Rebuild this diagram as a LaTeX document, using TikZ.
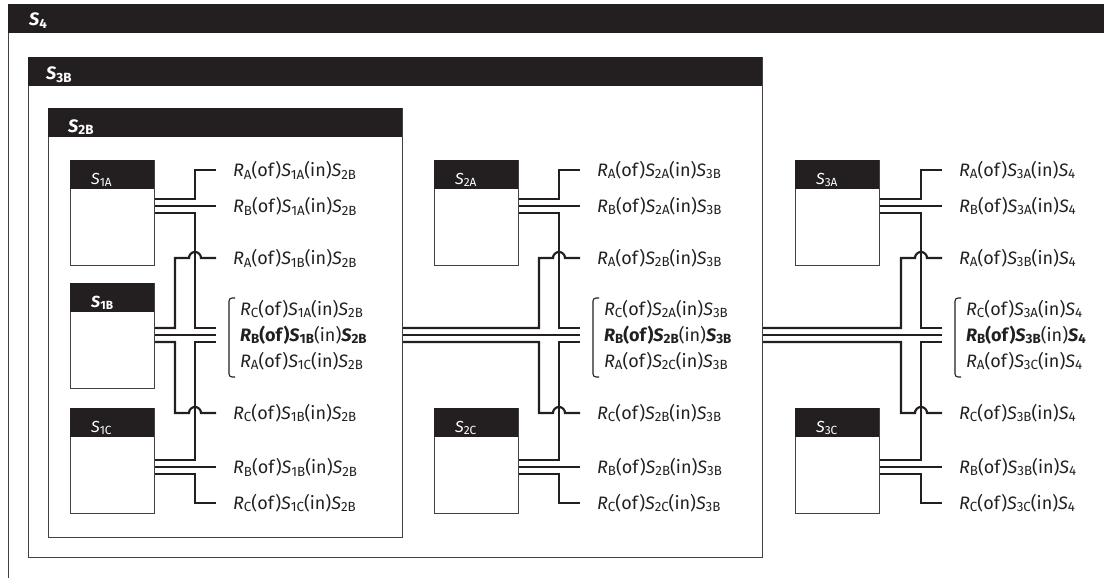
\documentclass[tikz,border=0pt]{standalone}
\usepackage{fontspec}
\usepackage{graphicx}
\setmainfont{Fira Sans}
\usetikzlibrary{calc}
\definecolor{ink}{HTML}{231F20}
\newcommand{\Rs}[1]{\textit{R}\raisebox{-0.3ex}{\scalebox{0.74}{#1}}}
\newcommand{\Ss}[1]{\textit{S}\raisebox{-0.3ex}{\scalebox{0.74}{#1}}}

\begin{document}
\begin{tikzpicture}[x=1pt, y=-1pt,
  every node/.style={font=\fontsize{18}{26}\selectfont, text=ink},
  frame/.style={draw=ink!85, line width=1.2pt, anchor=north west, inner sep=0pt},
  bar/.style={fill=ink, anchor=north west, inner sep=0pt, minimum height=29pt},
  ttl/.style={text=white, anchor=base west, inner sep=0pt},
  lbl/.style={anchor=west, inner xsep=17pt, inner ysep=0pt},
  grp/.style={anchor=west, inner xsep=24pt, inner ysep=0pt, align=left},
  wire/.style={draw=ink, line width=2.2pt},
  brk/.style={draw=ink, line width=1.1pt, rounded corners=3pt}]
  \useasboundingbox (0,0) rectangle (1104,578);
  \clip (0,0) rectangle (1104,578);

  % nested systems
  \node[frame, minimum width=1130pt, minimum height=620pt] (s4) at (8,4) {};
  \node[bar, minimum width=1130pt] (s4bar) at (s4.north west) {};
  \node[ttl, font=\fontsize{18}{20}\selectfont\bfseries] (s4t) at ($(s4.north west)+(21,22)$) {\Ss{4}};
  \node[frame, minimum width=734pt, minimum height=500pt] (s3b) at (28,57) {};
  \node[bar, minimum width=734pt] (s3bbar) at (s3b.north west) {};
  \node[ttl, font=\fontsize{18}{20}\selectfont\bfseries] (s3bt) at ($(s3b.north west)+(18,23)$) {\Ss{3B}};
  \node[frame, minimum width=354pt, minimum height=429pt] (s2b) at (48,108) {};
  \node[bar, minimum width=354pt] (s2bbar) at (s2b.north west) {};
  \node[ttl, font=\fontsize{18}{20}\selectfont\bfseries] (s2bt) at ($(s2b.north west)+(20,24)$) {\Ss{2B}};

  % elementary boxes
  \node[frame, minimum width=84pt, minimum height=105pt] (s1a) at (70,160) {};
  \node[frame, minimum width=84pt, minimum height=105pt] (s1b) at (70,283) {};
  \node[frame, minimum width=84pt, minimum height=105pt] (s1c) at (70,408) {};
  \node[frame, minimum width=84pt, minimum height=105pt] (s2a) at (434,160) {};
  \node[frame, minimum width=84pt, minimum height=105pt] (s2c) at (434,408) {};
  \node[frame, minimum width=84pt, minimum height=105pt] (s3a) at (795,160) {};
  \node[frame, minimum width=84pt, minimum height=105pt] (s3c) at (795,408) {};
  \node[bar, minimum width=84pt] (s1abar) at (s1a.north west) {};
  \node[bar, minimum width=84pt] (s1bbar) at (s1b.north west) {};
  \node[bar, minimum width=84pt] (s1cbar) at (s1c.north west) {};
  \node[bar, minimum width=84pt] (s2abar) at (s2a.north west) {};
  \node[bar, minimum width=84pt] (s2cbar) at (s2c.north west) {};
  \node[bar, minimum width=84pt] (s3abar) at (s3a.north west) {};
  \node[bar, minimum width=84pt] (s3cbar) at (s3c.north west) {};
  \node[ttl, font=\fontsize{16}{18}\selectfont] (s1at) at ($(s1a.north west)+(21,24)$) {\Ss{1A}};
  \node[ttl, font=\fontsize{16}{18}\selectfont\bfseries] (s1bt) at ($(s1b.north west)+(21,24)$) {\Ss{1B}};
  \node[ttl, font=\fontsize{16}{18}\selectfont] (s1ct) at ($(s1c.north west)+(21,24)$) {\Ss{1C}};
  \node[ttl, font=\fontsize{16}{18}\selectfont] (s2at) at ($(s2a.north west)+(21,24)$) {\Ss{2A}};
  \node[ttl, font=\fontsize{16}{18}\selectfont] (s2ct) at ($(s2c.north west)+(21,24)$) {\Ss{2C}};
  \node[ttl, font=\fontsize{16}{18}\selectfont] (s3at) at ($(s3a.north west)+(21,24)$) {\Ss{3A}};
  \node[ttl, font=\fontsize{16}{18}\selectfont] (s3ct) at ($(s3c.north west)+(21,24)$) {\Ss{3C}};

  % relation labels, level 1
  \node[lbl] (a1) at (216,170) {\Rs{A}(of)\Ss{1A}(in)\Ss{2B}};
  \node[lbl] (b1) at (216,206) {\Rs{B}(of)\Ss{1A}(in)\Ss{2B}};
  \node[lbl] (c1) at (216,258) {\Rs{A}(of)\Ss{1B}(in)\Ss{2B}};
  \node[grp] (g1) at (216,335) {\Rs{C}(of)\Ss{1A}(in)\Ss{2B}\\ \textbf{\Rs{B}(of)\Ss{1B}}(in)\textbf{\Ss{2B}}\\ \Rs{A}(of)\Ss{1C}(in)\Ss{2B}};
  \node[lbl] (d1) at (216,413) {\Rs{C}(of)\Ss{1B}(in)\Ss{2B}};
  \node[lbl] (e1) at (216,467) {\Rs{B}(of)\Ss{1B}(in)\Ss{2B}};
  \node[lbl] (f1) at (216,503) {\Rs{C}(of)\Ss{1C}(in)\Ss{2B}};

  % relation labels, level 2
  \node[lbl] (a2) at (580,170) {\Rs{A}(of)\Ss{2A}(in)\Ss{3B}};
  \node[lbl] (b2) at (580,206) {\Rs{B}(of)\Ss{2A}(in)\Ss{3B}};
  \node[lbl] (c2) at (580,258) {\Rs{A}(of)\Ss{2B}(in)\Ss{3B}};
  \node[grp] (g2) at (580,335) {\Rs{C}(of)\Ss{2A}(in)\Ss{3B}\\ \textbf{\Rs{B}(of)\Ss{2B}}(in)\textbf{\Ss{3B}}\\ \Rs{A}(of)\Ss{2C}(in)\Ss{3B}};
  \node[lbl] (d2) at (580,413) {\Rs{C}(of)\Ss{2B}(in)\Ss{3B}};
  \node[lbl] (e2) at (580,467) {\Rs{B}(of)\Ss{2B}(in)\Ss{3B}};
  \node[lbl] (f2) at (580,503) {\Rs{C}(of)\Ss{2C}(in)\Ss{3B}};

  % relation labels, level 3
  \node[lbl] (a3) at (942,170) {\Rs{A}(of)\Ss{3A}(in)\Ss{4}};
  \node[lbl] (b3) at (942,206) {\Rs{B}(of)\Ss{3A}(in)\Ss{4}};
  \node[lbl] (c3) at (942,258) {\Rs{A}(of)\Ss{3B}(in)\Ss{4}};
  \node[grp] (g3) at (942,335) {\Rs{C}(of)\Ss{3A}(in)\Ss{4}\\ \textbf{\Rs{B}(of)\Ss{3B}}(in)\textbf{\Ss{4}}\\ \Rs{A}(of)\Ss{3C}(in)\Ss{4}};
  \node[lbl] (d3) at (942,413) {\Rs{C}(of)\Ss{3B}(in)\Ss{4}};
  \node[lbl] (e3) at (942,467) {\Rs{B}(of)\Ss{3B}(in)\Ss{4}};
  \node[lbl] (f3) at (942,503) {\Rs{C}(of)\Ss{3C}(in)\Ss{4}};

  % brackets
  \draw[brk] ($(g1.west)+(19,-37)$) -- ($(g1.west)+(13,-37)$) -- ($(g1.west)+(13,42)$) -- ($(g1.west)+(19,42)$);
  \draw[brk] ($(g2.west)+(19,-37)$) -- ($(g2.west)+(13,-37)$) -- ($(g2.west)+(13,42)$) -- ($(g2.west)+(19,42)$);
  \draw[brk] ($(g3.west)+(19,-37)$) -- ($(g3.west)+(13,-37)$) -- ($(g3.west)+(13,42)$) -- ($(g3.west)+(19,42)$);

  % wires, level 1
  \draw[wire]
    ($(s1a.east |- b1)+(0,-7)$) -| ($(a1.west)+(-21,0)$) -- (a1.west)
    (s1a.east |- b1) -- (b1.west)
    ($(s1a.east |- b1)+(0,7)$) -| ($(g1.west)+(-21,-7)$) -- ($(g1.west)+(0,-7)$)
    (s1b.east |- g1) -- (g1.west)
    ($(s1c.east |- e1)+(0,-7)$) -| ($(g1.west)+(-21,7)$) -- ($(g1.west)+(0,7)$)
    (s1c.east |- e1) -- (e1.west)
    ($(s1c.east |- e1)+(0,7)$) -| ($(f1.west)+(-21,0)$) -- (f1.west);
  \draw[wire]
    ($(s1b.east |- g1)+(0,-7)$) -| ($(c1.west)+(-41,0)$) -- ($(c1.west)+(-27,0)$) arc[start angle=180, end angle=0, radius=6pt] -- (c1.west)
    ($(s1b.east |- g1)+(0,7)$) -| ($(d1.west)+(-41,0)$) -- ($(d1.west)+(-27,0)$) arc[start angle=180, end angle=0, radius=6pt] -- (d1.west);

  % wires, level 2
  \draw[wire]
    ($(s2a.east |- b2)+(0,-7)$) -| ($(a2.west)+(-21,0)$) -- (a2.west)
    (s2a.east |- b2) -- (b2.west)
    ($(s2a.east |- b2)+(0,7)$) -| ($(g2.west)+(-21,-7)$) -- ($(g2.west)+(0,-7)$)
    (s2b.east |- g2) -- (g2.west)
    ($(s2c.east |- e2)+(0,-7)$) -| ($(g2.west)+(-21,7)$) -- ($(g2.west)+(0,7)$)
    (s2c.east |- e2) -- (e2.west)
    ($(s2c.east |- e2)+(0,7)$) -| ($(f2.west)+(-21,0)$) -- (f2.west);
  \draw[wire]
    ($(s2b.east |- g2)+(0,-7)$) -| ($(c2.west)+(-41,0)$) -- ($(c2.west)+(-27,0)$) arc[start angle=180, end angle=0, radius=6pt] -- (c2.west)
    ($(s2b.east |- g2)+(0,7)$) -| ($(d2.west)+(-41,0)$) -- ($(d2.west)+(-27,0)$) arc[start angle=180, end angle=0, radius=6pt] -- (d2.west);

  % wires, level 3
  \draw[wire]
    ($(s3a.east |- b3)+(0,-7)$) -| ($(a3.west)+(-21,0)$) -- (a3.west)
    (s3a.east |- b3) -- (b3.west)
    ($(s3a.east |- b3)+(0,7)$) -| ($(g3.west)+(-21,-7)$) -- ($(g3.west)+(0,-7)$)
    (s3b.east |- g3) -- (g3.west)
    ($(s3c.east |- e3)+(0,-7)$) -| ($(g3.west)+(-21,7)$) -- ($(g3.west)+(0,7)$)
    (s3c.east |- e3) -- (e3.west)
    ($(s3c.east |- e3)+(0,7)$) -| ($(f3.west)+(-21,0)$) -- (f3.west);
  \draw[wire]
    ($(s3b.east |- g3)+(0,-7)$) -| ($(c3.west)+(-41,0)$) -- ($(c3.west)+(-27,0)$) arc[start angle=180, end angle=0, radius=6pt] -- (c3.west)
    ($(s3b.east |- g3)+(0,7)$) -| ($(d3.west)+(-41,0)$) -- ($(d3.west)+(-27,0)$) arc[start angle=180, end angle=0, radius=6pt] -- (d3.west);
\end{tikzpicture}
\end{document}
